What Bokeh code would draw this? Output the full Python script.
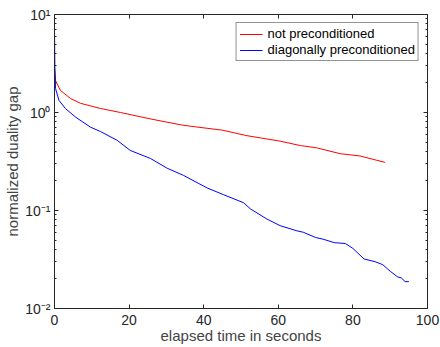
from bokeh.plotting import figure
from bokeh.models import LinearAxis, LogAxis, FixedTicker, Legend, LegendItem, Range1d
from bokeh.embed import file_html
from bokeh.resources import INLINE

# data
t_not = [0, 0.3, 1.6, 4.3, 7, 12.3, 17.7, 25.7, 33.7, 36.4, 45, 51.6, 60.5, 65.9, 70.3, 76.6, 81.9, 88.6]
gap_not = [2.8, 2.1, 1.68, 1.39, 1.24, 1.1, 1.0, 0.86, 0.75, 0.725, 0.66, 0.58, 0.51, 0.46, 0.436, 0.38, 0.36, 0.31]

t_diag = [0, 0.1, 0.27, 1.2, 2.9, 5.6, 9.6, 12.3, 16.8, 20.3, 25.7, 30.2, 34.6, 40.9, 45.3, 50.7,
          52.5, 56.9, 60.5, 65, 66.7, 70, 72, 75, 78, 80, 83, 86, 88, 90, 92, 93, 94, 95]
gap_diag = [7.2, 3.0, 1.76, 1.33, 1.1, 0.9, 0.71, 0.64, 0.52, 0.41, 0.34, 0.27, 0.228, 0.17, 0.145, 0.12,
            0.104, 0.082, 0.070, 0.062, 0.060, 0.053, 0.051, 0.047, 0.046, 0.041, 0.032, 0.030, 0.028,
            0.024, 0.021, 0.0205, 0.0188, 0.0188]

x_ticks = [0, 20, 40, 60, 80, 100]
y_ticks = [0.01, 0.1, 1, 10]
y_tick_labels = {0.01: "10⁻²", 0.1: "10⁻¹", 1: "10⁰", 10: "10¹"}
series_labels = ["not preconditioned", "diagonally preconditioned"]
x_title = "elapsed time in seconds"
y_title = "normalized duality gap"

FONT = "Liberation Sans"
AX = "#262626"
minor = [k * 10.0 ** e for e in (-2, -1, 0) for k in range(2, 10)]

p = figure(width=440, height=347, y_axis_type="log", output_backend="svg", toolbar_location=None,
           x_range=Range1d(0, 100), y_range=Range1d(0.01, 10),
           min_border_left=54, min_border_right=13, min_border_top=14, min_border_bottom=39)
p.grid.visible = False
p.outline_line_color = AX
p.background_fill_color = "white"
p.border_fill_color = "white"

r1 = p.line(t_not, gap_not, line_color="#ff0000", line_width=1)
r2 = p.line(t_diag, gap_diag, line_color="#0000ff", line_width=1)

xa = p.xaxis[0]
xa.ticker = FixedTicker(ticks=x_ticks)
xa.major_label_text_font = FONT
xa.major_label_text_font_size = "14px"
xa.major_label_standoff = 6
xa.axis_label = x_title
xa.axis_label_text_font = FONT
xa.axis_label_text_font_style = "normal"
xa.axis_label_text_font_size = "15px"
xa.axis_label_standoff = -1

ya = p.yaxis[0]
ya.ticker = FixedTicker(ticks=y_ticks, minor_ticks=minor)
ya.major_label_overrides = y_tick_labels
ya.axis_label = y_title
ya.axis_label_text_font = FONT
ya.axis_label_text_font_style = "normal"
ya.axis_label_text_font_size = "15px"
ya.axis_label_standoff = 1
ya.major_label_text_font = FONT
ya.major_label_text_font_size = "14px"
ya.major_label_standoff = 4

top = LinearAxis(ticker=FixedTicker(ticks=x_ticks))
right = LogAxis(ticker=FixedTicker(ticks=y_ticks, minor_ticks=minor))
for ax in (top, right):
    ax.major_label_text_font_size = "0px"
    ax.major_label_standoff = 0
p.add_layout(top, "above")
p.add_layout(right, "right")

for ax in (xa, ya, top, right):
    ax.axis_line_color = AX
    ax.major_tick_line_color = AX
    ax.minor_tick_line_color = AX
    ax.major_tick_in = 4
    ax.major_tick_out = 0
    ax.minor_tick_in = 2
    ax.minor_tick_out = 0
    ax.major_label_text_color = AX if ax in (xa, ya) else None
xa.minor_tick_line_color = None
top.minor_tick_line_color = None

legend = Legend(items=[LegendItem(label=series_labels[0], renderers=[r1]),
                       LegendItem(label=series_labels[1], renderers=[r2])],
                location="top_right")
legend.label_text_font = FONT
legend.label_text_font_size = "13px"
legend.label_text_color = "black"
legend.label_standoff = 5
legend.label_height = 14
legend.glyph_width = 23
legend.glyph_height = 14
legend.spacing = 1
legend.padding = 3
legend.margin = 8
legend.border_line_color = AX
legend.border_line_width = 1
p.add_layout(legend)

open("out.html", "w").write(file_html(p, INLINE))
